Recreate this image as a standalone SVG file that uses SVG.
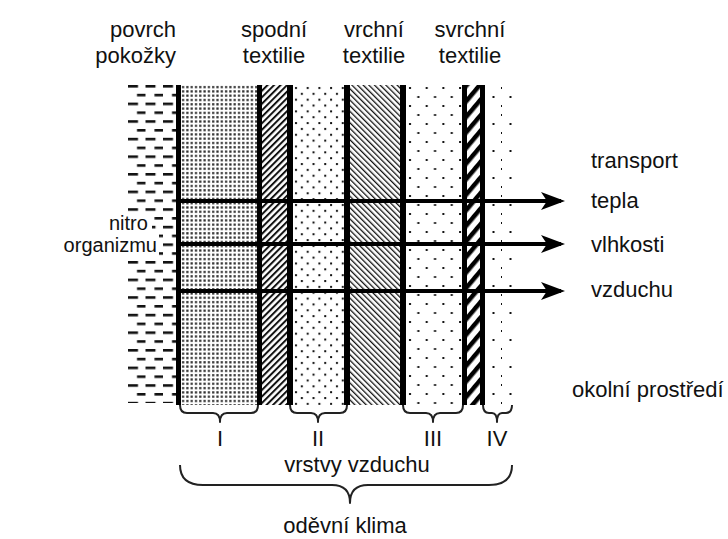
<svg xmlns="http://www.w3.org/2000/svg" width="728" height="539" viewBox="0 0 728 539">
  <style>
    text { font-family: "Liberation Sans", Arial, sans-serif; font-size: 22px; fill: #111; }
    .small { font-size: 20px; }
    .mid { text-anchor: middle; }
    .end { text-anchor: end; }
    .bar { fill: #000; }
    .flow { stroke: #000; stroke-width: 4; fill: none; }
    .brace { fill: none; stroke: #222; stroke-width: 2; stroke-linejoin: round; }
  </style>
  <defs>
    <!-- skin: staggered short dashes -->
    <pattern id="pDash" patternUnits="userSpaceOnUse" x="128" y="85" width="17.5" height="17.6">
      <rect x="0" y="0" width="10" height="2.6" fill="#111"/>
      <rect x="9" y="8.8" width="10" height="2.6" fill="#111"/>
    </pattern>
    <!-- air layer I: fine dense dots -->
    <pattern id="pFine" patternUnits="userSpaceOnUse" x="181" y="85" width="4.3" height="4.3">
      <rect x="1" y="1" width="2.2" height="2.2" fill="#2a2a2a"/>
    </pattern>
    <!-- inner textile: "/" hatch -->
    <pattern id="pHatchA" patternUnits="userSpaceOnUse" width="4.6" height="4.6" patternTransform="rotate(45)">
      <rect x="0" y="0" width="2" height="4.6" fill="#111"/>
    </pattern>
    <!-- air layer II: medium staggered dots -->
    <pattern id="pDotsM" patternUnits="userSpaceOnUse" x="293" y="85" width="11.7" height="11.7">
      <rect x="2" y="2" width="2" height="2" fill="#111"/>
      <rect x="7.85" y="7.85" width="2" height="2" fill="#111"/>
    </pattern>
    <!-- middle textile: thin "\" hatch -->
    <pattern id="pHatchB" patternUnits="userSpaceOnUse" width="4" height="4" patternTransform="rotate(-45)">
      <rect x="0" y="0" width="1.3" height="4" fill="#111"/>
    </pattern>
    <!-- air layers III and IV: sparse staggered dots -->
    <pattern id="pDotsS" patternUnits="userSpaceOnUse" x="406" y="85" width="16.7" height="18">
      <rect x="3" y="2" width="2" height="2" fill="#111"/>
      <rect x="11.35" y="11" width="2" height="2" fill="#111"/>
    </pattern>
    <pattern id="pDotsT" patternUnits="userSpaceOnUse" x="485" y="85" width="17" height="27">
      <rect x="16" y="2" width="2" height="2" fill="#111"/>
      <rect x="7.5" y="11" width="2" height="2" fill="#111"/>
      <rect x="16" y="20" width="2" height="2" fill="#111"/>
    </pattern>
    <!-- outer textile: bold "/" hatch -->
    <pattern id="pHatchC" patternUnits="userSpaceOnUse" width="10" height="10" patternTransform="rotate(40)">
      <rect x="0" y="0" width="4.5" height="10" fill="#000"/>
    </pattern>
    <marker id="arrowHead" viewBox="0 0 24 18" refX="20" refY="9" markerWidth="24" markerHeight="18" markerUnits="userSpaceOnUse" orient="auto">
      <path d="M0,0 L24,9 L0,18 L6,9 Z" fill="#000"/>
    </marker>
  </defs>

  <rect x="0" y="0" width="728" height="539" fill="#fff"/>

  <!-- layer columns -->
  <g id="skin">
    <rect x="128" y="85" width="48" height="318" fill="url(#pDash)"/>
  </g>
  <g id="air-I">
    <rect x="181" y="85" width="76" height="320" fill="url(#pFine)"/>
  </g>
  <g id="inner-textile">
    <rect x="262" y="85" width="25" height="320" fill="url(#pHatchA)"/>
  </g>
  <g id="air-II">
    <rect x="293" y="85" width="51" height="320" fill="url(#pDotsM)"/>
  </g>
  <g id="middle-textile">
    <rect x="350" y="85" width="50" height="320" fill="url(#pHatchB)"/>
  </g>
  <g id="air-III">
    <rect x="406" y="85" width="56" height="320" fill="url(#pDotsS)"/>
  </g>
  <g id="outer-textile">
    <rect x="467" y="85" width="13" height="320" fill="url(#pHatchC)"/>
  </g>
  <g id="air-IV">
    <rect x="485" y="85" width="28" height="320" fill="url(#pDotsT)"/>
  </g>

  <!-- boundary walls -->
  <g id="walls">
    <rect class="bar" x="176" y="85" width="5" height="320"/>
    <rect class="bar" x="257" y="85" width="5" height="320"/>
    <rect class="bar" x="287" y="85" width="6" height="320"/>
    <rect class="bar" x="344" y="85" width="6" height="320"/>
    <rect class="bar" x="400" y="85" width="6" height="320"/>
    <rect class="bar" x="462" y="85" width="5" height="320"/>
    <rect class="bar" x="480" y="85" width="5" height="320"/>
  </g>

  <!-- transport flows -->
  <g id="connectors">
    <line class="flow" x1="176" y1="201" x2="561" y2="201" marker-end="url(#arrowHead)"/>
    <line class="flow" x1="176" y1="244" x2="561" y2="244" marker-end="url(#arrowHead)"/>
    <line class="flow" x1="176" y1="291" x2="561" y2="291" marker-end="url(#arrowHead)"/>
  </g>

  <!-- top headings -->
  <g id="label-skin-surface">
    <text class="end" x="176" y="37">povrch</text>
    <text class="end" x="176" y="63">pokožky</text>
  </g>
  <g id="label-inner">
    <text class="mid" x="274" y="37">spodní</text>
    <text class="mid" x="274" y="63">textilie</text>
  </g>
  <g id="label-middle">
    <text class="mid" x="374" y="37">vrchní</text>
    <text class="mid" x="374" y="63">textilie</text>
  </g>
  <g id="label-outer">
    <text class="mid" x="470" y="37">svrchní</text>
    <text class="mid" x="470" y="63">textilie</text>
  </g>

  <!-- body core label, on a white backing over the skin dashes -->
  <g id="label-core">
    <rect x="106" y="212" width="46" height="21" fill="#fff"/>
    <rect x="61" y="234" width="98" height="22" fill="#fff"/>
    <text class="small" x="109" y="230">nitro</text>
    <text class="small end" x="157" y="252">organizmu</text>
  </g>

  <!-- right side labels -->
  <g id="label-transport">
    <text x="591" y="168">transport</text>
    <text x="591" y="208">tepla</text>
    <text x="591" y="252">vlhkosti</text>
    <text x="591" y="297">vzduchu</text>
  </g>
  <g id="label-environment">
    <text x="572" y="397">okolní prostředí</text>
  </g>

  <!-- air layer braces -->
  <g id="braces">
    <path class="brace" d="M180,405 Q180,413 187,413 L213,413 Q220,413 220,422 Q220,413 227,413 L251,413 Q258,413 258,405"/>
    <path class="brace" d="M290,405 Q290,413 297,413 L311,413 Q318,413 318,422 Q318,413 325,413 L340,413 Q347,413 347,405"/>
    <path class="brace" d="M403,405 Q403,413 410,413 L426,413 Q433,413 433,422 Q433,413 440,413 L456,413 Q463,413 463,405"/>
    <path class="brace" d="M483,405 Q483,413 489,413 L492,413 Q497,413 497,422 Q497,413 502,413 L506,413 Q512,413 512,405"/>
    <path class="brace" d="M180,465 Q180,485 203,485 L332,485 Q350,485 350,503 Q350,485 368,485 L489,485 Q512,485 512,465"/>
  </g>

  <g id="label-layers">
    <text class="mid" x="220" y="446">I</text>
    <text class="mid" x="318" y="446">II</text>
    <text class="mid" x="433" y="446">III</text>
    <text class="mid" x="497" y="446">IV</text>
    <text class="mid" x="357" y="472">vrstvy vzduchu</text>
  </g>
  <g id="label-climate">
    <text class="mid" x="345" y="533">oděvní klima</text>
  </g>
</svg>
